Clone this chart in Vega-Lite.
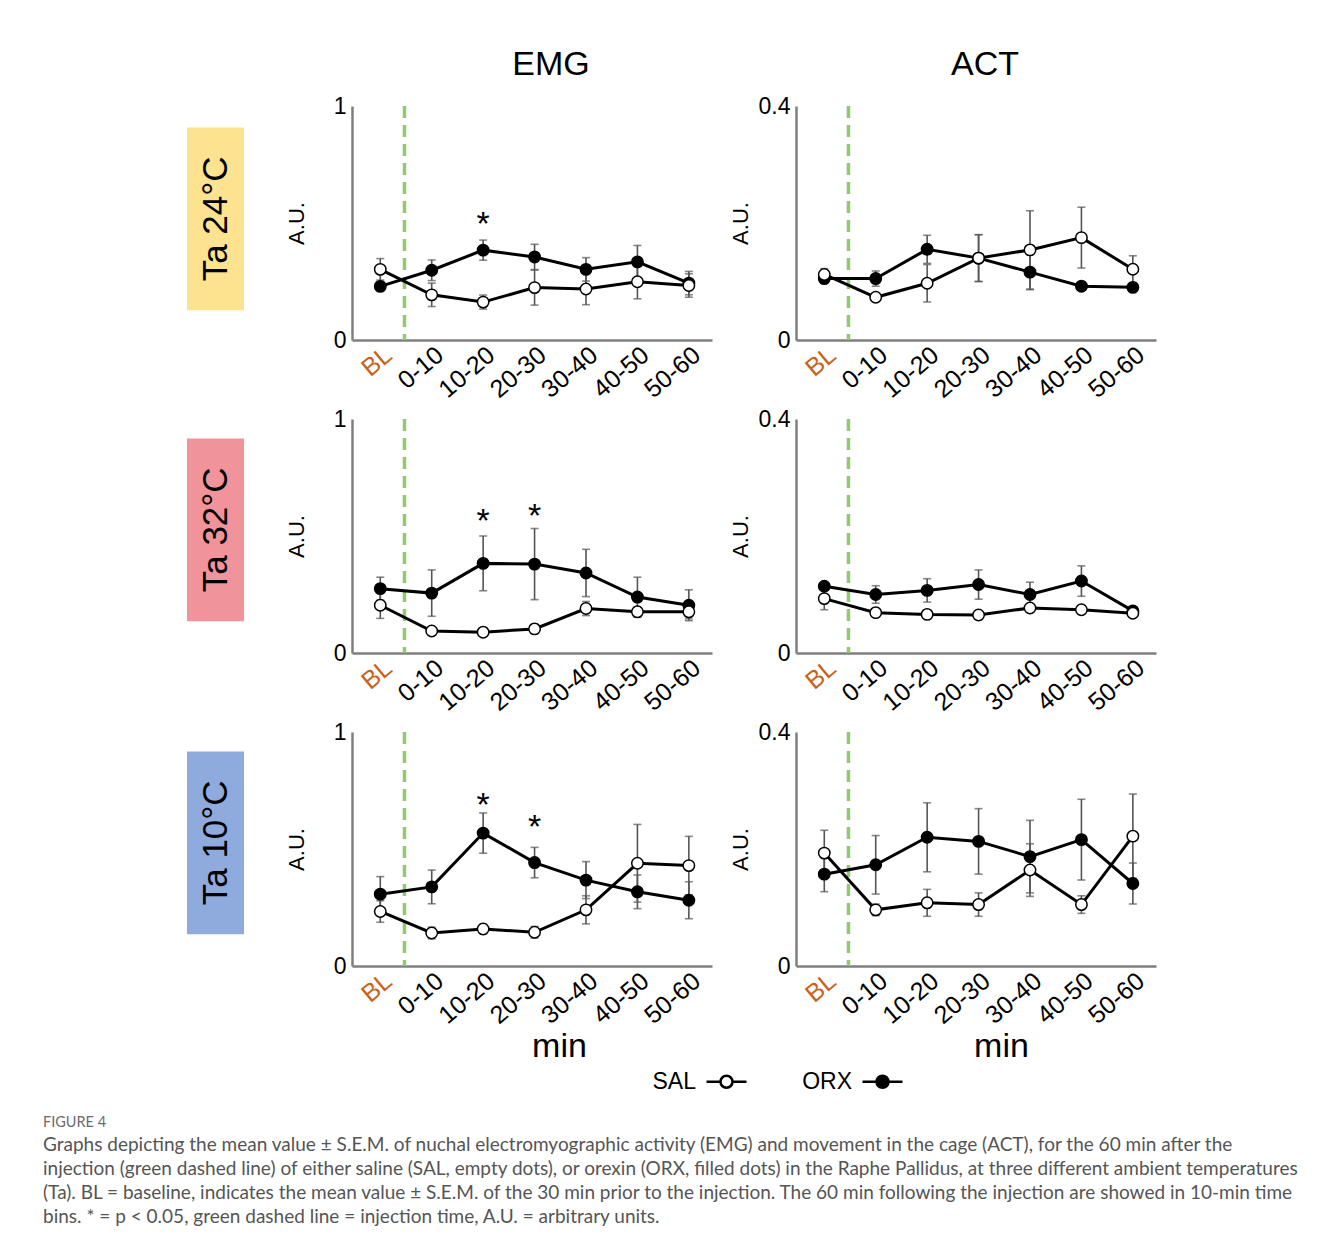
{
"$schema":"https://vega.github.io/schema/vega-lite/v6.json",
"background":"white",
"padding":{"left":43,"top":48,"right":5,"bottom":10},
"datasets":{
"d":[
{"T":"24","M":"EMG","s":"ORX","x":0,"v":0.229,"e":0.02},{"T":"24","M":"EMG","s":"ORX","x":1,"v":0.298,"e":0.044},{"T":"24","M":"EMG","s":"ORX","x":2,"v":0.384,"e":0.043},{"T":"24","M":"EMG","s":"ORX","x":3,"v":0.355,"e":0.054},{"T":"24","M":"EMG","s":"ORX","x":4,"v":0.302,"e":0.05},{"T":"24","M":"EMG","s":"ORX","x":5,"v":0.334,"e":0.07},{"T":"24","M":"EMG","s":"ORX","x":6,"v":0.243,"e":0.05},
{"T":"24","M":"EMG","s":"SAL","x":0,"v":0.302,"e":0.046},{"T":"24","M":"EMG","s":"SAL","x":1,"v":0.193,"e":0.05},{"T":"24","M":"EMG","s":"SAL","x":2,"v":0.162,"e":0.03},{"T":"24","M":"EMG","s":"SAL","x":3,"v":0.224,"e":0.075},{"T":"24","M":"EMG","s":"SAL","x":4,"v":0.218,"e":0.067},{"T":"24","M":"EMG","s":"SAL","x":5,"v":0.249,"e":0.073},{"T":"24","M":"EMG","s":"SAL","x":6,"v":0.233,"e":0.05},
{"T":"24","M":"ACT","s":"ORX","x":0,"v":0.105,"e":0.008},{"T":"24","M":"ACT","s":"ORX","x":1,"v":0.105,"e":0.013},{"T":"24","M":"ACT","s":"ORX","x":2,"v":0.155,"e":0.024},{"T":"24","M":"ACT","s":"ORX","x":3,"v":0.14,"e":0.04},{"T":"24","M":"ACT","s":"ORX","x":4,"v":0.116,"e":0.03},{"T":"24","M":"ACT","s":"ORX","x":5,"v":0.092,"e":0},{"T":"24","M":"ACT","s":"ORX","x":6,"v":0.09,"e":0},
{"T":"24","M":"ACT","s":"SAL","x":0,"v":0.112,"e":0.01},{"T":"24","M":"ACT","s":"SAL","x":1,"v":0.073,"e":0.005},{"T":"24","M":"ACT","s":"SAL","x":2,"v":0.097,"e":0.032},{"T":"24","M":"ACT","s":"SAL","x":3,"v":0.14,"e":0.04},{"T":"24","M":"ACT","s":"SAL","x":4,"v":0.154,"e":0.067},{"T":"24","M":"ACT","s":"SAL","x":5,"v":0.175,"e":0.052},{"T":"24","M":"ACT","s":"SAL","x":6,"v":0.121,"e":0.023},
{"T":"32","M":"EMG","s":"ORX","x":0,"v":0.275,"e":0.049},{"T":"32","M":"EMG","s":"ORX","x":1,"v":0.256,"e":0.099},{"T":"32","M":"EMG","s":"ORX","x":2,"v":0.383,"e":0.117},{"T":"32","M":"EMG","s":"ORX","x":3,"v":0.38,"e":0.152},{"T":"32","M":"EMG","s":"ORX","x":4,"v":0.342,"e":0.101},{"T":"32","M":"EMG","s":"ORX","x":5,"v":0.239,"e":0.085},{"T":"32","M":"EMG","s":"ORX","x":6,"v":0.204,"e":0.066},
{"T":"32","M":"EMG","s":"SAL","x":0,"v":0.204,"e":0.056},{"T":"32","M":"EMG","s":"SAL","x":1,"v":0.094,"e":0.01},{"T":"32","M":"EMG","s":"SAL","x":2,"v":0.089,"e":0.008},{"T":"32","M":"EMG","s":"SAL","x":3,"v":0.103,"e":0.02},{"T":"32","M":"EMG","s":"SAL","x":4,"v":0.19,"e":0.03},{"T":"32","M":"EMG","s":"SAL","x":5,"v":0.176,"e":0.02},{"T":"32","M":"EMG","s":"SAL","x":6,"v":0.176,"e":0.03},
{"T":"32","M":"ACT","s":"ORX","x":0,"v":0.114,"e":0.006},{"T":"32","M":"ACT","s":"ORX","x":1,"v":0.1,"e":0.015},{"T":"32","M":"ACT","s":"ORX","x":2,"v":0.107,"e":0.02},{"T":"32","M":"ACT","s":"ORX","x":3,"v":0.117,"e":0.025},{"T":"32","M":"ACT","s":"ORX","x":4,"v":0.1,"e":0.021},{"T":"32","M":"ACT","s":"ORX","x":5,"v":0.123,"e":0.026},{"T":"32","M":"ACT","s":"ORX","x":6,"v":0.072,"e":0.004},
{"T":"32","M":"ACT","s":"SAL","x":0,"v":0.093,"e":0.019},{"T":"32","M":"ACT","s":"SAL","x":1,"v":0.069,"e":0.004},{"T":"32","M":"ACT","s":"SAL","x":2,"v":0.066,"e":0.003},{"T":"32","M":"ACT","s":"SAL","x":3,"v":0.065,"e":0.003},{"T":"32","M":"ACT","s":"SAL","x":4,"v":0.077,"e":0.004},{"T":"32","M":"ACT","s":"SAL","x":5,"v":0.074,"e":0.004},{"T":"32","M":"ACT","s":"SAL","x":6,"v":0.068,"e":0.003},
{"T":"10","M":"EMG","s":"ORX","x":0,"v":0.307,"e":0.075},{"T":"10","M":"EMG","s":"ORX","x":1,"v":0.338,"e":0.072},{"T":"10","M":"EMG","s":"ORX","x":2,"v":0.568,"e":0.086},{"T":"10","M":"EMG","s":"ORX","x":3,"v":0.442,"e":0.065},{"T":"10","M":"EMG","s":"ORX","x":4,"v":0.367,"e":0.079},{"T":"10","M":"EMG","s":"ORX","x":5,"v":0.317,"e":0.072},{"T":"10","M":"EMG","s":"ORX","x":6,"v":0.281,"e":0.079},
{"T":"10","M":"EMG","s":"SAL","x":0,"v":0.233,"e":0.046},{"T":"10","M":"EMG","s":"SAL","x":1,"v":0.141,"e":0.025},{"T":"10","M":"EMG","s":"SAL","x":2,"v":0.158,"e":0.02},{"T":"10","M":"EMG","s":"SAL","x":3,"v":0.144,"e":0.025},{"T":"10","M":"EMG","s":"SAL","x":4,"v":0.24,"e":0.06},{"T":"10","M":"EMG","s":"SAL","x":5,"v":0.439,"e":0.166},{"T":"10","M":"EMG","s":"SAL","x":6,"v":0.429,"e":0.125},
{"T":"10","M":"ACT","s":"ORX","x":0,"v":0.157,"e":0.03},{"T":"10","M":"ACT","s":"ORX","x":1,"v":0.173,"e":0.05},{"T":"10","M":"ACT","s":"ORX","x":2,"v":0.22,"e":0.059},{"T":"10","M":"ACT","s":"ORX","x":3,"v":0.213,"e":0.056},{"T":"10","M":"ACT","s":"ORX","x":4,"v":0.187,"e":0.062},{"T":"10","M":"ACT","s":"ORX","x":5,"v":0.216,"e":0.069},{"T":"10","M":"ACT","s":"ORX","x":6,"v":0.141,"e":0.035},
{"T":"10","M":"ACT","s":"SAL","x":0,"v":0.193,"e":0.039},{"T":"10","M":"ACT","s":"SAL","x":1,"v":0.096,"e":0.01},{"T":"10","M":"ACT","s":"SAL","x":2,"v":0.108,"e":0.023},{"T":"10","M":"ACT","s":"SAL","x":3,"v":0.105,"e":0.02},{"T":"10","M":"ACT","s":"SAL","x":4,"v":0.164,"e":0.045},{"T":"10","M":"ACT","s":"SAL","x":5,"v":0.105,"e":0.015},{"T":"10","M":"ACT","s":"SAL","x":6,"v":0.222,"e":0.072}
],
"st":[
{"T":"24","M":"EMG","x":2,"y":0.53},
{"T":"32","M":"EMG","x":2,"y":0.597},{"T":"32","M":"EMG","x":3,"y":0.618},
{"T":"10","M":"EMG","x":2,"y":0.722},{"T":"10","M":"EMG","x":3,"y":0.627}
]
},
"title":{"text":"FIGURE 4","subtitle":["Graphs depicting the mean value ± S.E.M. of nuchal electromyographic activity (EMG) and movement in the cage (ACT), for the 60 min after the","injection (green dashed line) of either saline (SAL, empty dots), or orexin (ORX, filled dots) in the Raphe Pallidus, at three different ambient temperatures","(Ta). BL = baseline, indicates the mean value ± S.E.M. of the 30 min prior to the injection. The 60 min following the injection are showed in 10-min time","bins. * = p < 0.05, green dashed line = injection time, A.U. = arbitrary units."],"orient":"bottom","anchor":"start","frame":"bounds","dx":-144,"offset":22,"font":"Lato","fontSize":14.5,"fontWeight":"normal","color":"#6b6b6b","subtitleFont":"Lato","subtitleFontSize":19,"subtitleColor":"#555555","subtitleLineHeight":24,"subtitlePadding":5},
"columns":3,
"spacing":{"row":79,"column":84},
"bounds":"flush",
"align":"each",
"resolve":{"scale":{"x":"independent","y":"independent","fill":"shared"},"axis":{"x":"independent","y":"independent"}},
"concat":[
{"width":81,"height":234,"data":{"values":[{"lab":"Ta 24°C"}]},"layer":[
 {"mark":{"type":"rect","color":"#fde290"},"encoding":{"x":{"field":"lab","type":"nominal","axis":null,"scale":{"paddingInner":0,"paddingOuter":0.21,"align":0}},"y":{"field":"lab","type":"nominal","axis":null,"scale":{"paddingInner":0,"paddingOuter":0.14,"align":0.42}}}},
 {"mark":{"type":"text","angle":270,"fontSize":35,"color":"black"},"encoding":{"x":{"field":"lab","type":"nominal","axis":null},"y":{"field":"lab","type":"nominal","axis":null},"text":{"field":"lab"}}}
]},
{"width":360,"height":234,"title":{"text":"EMG","fontSize":34,"fontWeight":"normal","offset":13,"dx":19},"layer":[
 {"data":{"values":[{}]},"mark":{"type":"rule","color":"#8fca70","strokeWidth":3.5,"strokeDash":[12,7]},"encoding":{"x":{"datum":0.47,"type":"quantitative","scale":{"domain":[-0.55,6.45],"nice":false,"zero":false},"axis":{"values":[0,1,2,3,4,5,6],"labelExpr":"['BL','0-10','10-20','20-30','30-40','40-50','50-60'][datum.value]","labelAngle":-40,"labelAlign":"right","labelBaseline":"top","labelFontSize":25,"labelColor":{"condition":{"test":"datum.value == 0","value":"#c7631c"},"value":"black"},"labelOverlap":false,"labelFlush":false,"labelBound":false,"labelPadding":2,"ticks":false,"grid":false,"title":null,"domainColor":"#7f7f7f","domainWidth":2.5}}}},
 {"data":{"name":"d"},"transform":[{"filter":"datum.T == '24' && datum.M == 'EMG'"}],"mark":{"type":"line","color":"black","strokeWidth":3},"encoding":{"x":{"field":"x","type":"quantitative"},"y":{"field":"v","type":"quantitative","title":"A.U.","scale":{"domain":[0,1],"nice":false},"axis":{"values":[0,1],"format":"~g","ticks":false,"grid":false,"title":"A.U.","titleFontSize":22,"titleFontWeight":"normal","titlePadding":25,"titleColor":"black","labelFontSize":23,"labelPadding":6,"labelColor":"black","labelFlush":false,"domainColor":"#7f7f7f","domainWidth":2.5}},"detail":{"field":"s"}}},
 {"data":{"name":"d"},"transform":[{"filter":"datum.T == '24' && datum.M == 'EMG'"}],"mark":{"type":"errorbar","color":"#555555","thickness":1.6,"ticks":{"size":8}},"encoding":{"x":{"field":"x","type":"quantitative"},"y":{"field":"v","type":"quantitative","title":"A.U."},"yError":{"field":"e"}}},
 {"data":{"name":"d"},"transform":[{"filter":"datum.T == '24' && datum.M == 'EMG'"}],"mark":{"type":"circle","size":130,"stroke":"black","strokeWidth":1.5,"opacity":1},"encoding":{"x":{"field":"x","type":"quantitative"},"y":{"field":"v","type":"quantitative","title":"A.U."},"fill":{"field":"s","type":"nominal","scale":{"domain":["SAL","ORX"],"range":["white","black"]},"legend":{"orient":"none","legendX":518,"legendY":954,"direction":"horizontal","title":null,"symbolType":"M-1,0H-0.3A0.3,0.3 0 1,1 0.3,0A0.3,0.3 0 1,1 -0.3,0M0.3,0H1","symbolSize":1600,"symbolStrokeColor":"black","symbolStrokeWidth":2.5,"labelFontSize":23,"labelColor":"black","labelOffset":-52,"labelAlign":"right","columnPadding":50}}}},
 {"data":{"name":"st"},"transform":[{"filter":"datum.T == '24' && datum.M == 'EMG'"}],"mark":{"type":"text","text":"*","fontSize":34,"baseline":"alphabetic","dy":19,"color":"black"},"encoding":{"x":{"field":"x","type":"quantitative"},"y":{"field":"y","type":"quantitative","title":"A.U."}}}
]},
{"width":360,"height":234,"title":{"text":"ACT","fontSize":34,"fontWeight":"normal","offset":13,"dx":9},"layer":[
 {"data":{"values":[{}]},"mark":{"type":"rule","color":"#8fca70","strokeWidth":3.5,"strokeDash":[12,7]},"encoding":{"x":{"datum":0.47,"type":"quantitative","scale":{"domain":[-0.55,6.45],"nice":false,"zero":false},"axis":{"values":[0,1,2,3,4,5,6],"labelExpr":"['BL','0-10','10-20','20-30','30-40','40-50','50-60'][datum.value]","labelAngle":-40,"labelAlign":"right","labelBaseline":"top","labelFontSize":25,"labelColor":{"condition":{"test":"datum.value == 0","value":"#c7631c"},"value":"black"},"labelOverlap":false,"labelFlush":false,"labelBound":false,"labelPadding":2,"ticks":false,"grid":false,"title":null,"domainColor":"#7f7f7f","domainWidth":2.5}}}},
 {"data":{"name":"d"},"transform":[{"filter":"datum.T == '24' && datum.M == 'ACT'"}],"mark":{"type":"line","color":"black","strokeWidth":3},"encoding":{"x":{"field":"x","type":"quantitative"},"y":{"field":"v","type":"quantitative","title":"A.U.","scale":{"domain":[0,0.4],"nice":false},"axis":{"values":[0,0.4],"format":"~g","ticks":false,"grid":false,"title":"A.U.","titleFontSize":22,"titleFontWeight":"normal","titlePadding":6,"titleColor":"black","labelFontSize":23,"labelPadding":6,"labelColor":"black","labelFlush":false,"domainColor":"#7f7f7f","domainWidth":2.5}},"detail":{"field":"s"}}},
 {"data":{"name":"d"},"transform":[{"filter":"datum.T == '24' && datum.M == 'ACT'"}],"mark":{"type":"errorbar","color":"#555555","thickness":1.6,"ticks":{"size":8}},"encoding":{"x":{"field":"x","type":"quantitative"},"y":{"field":"v","type":"quantitative","title":"A.U."},"yError":{"field":"e"}}},
 {"data":{"name":"d"},"transform":[{"filter":"datum.T == '24' && datum.M == 'ACT'"}],"mark":{"type":"circle","size":130,"stroke":"black","strokeWidth":1.5,"opacity":1},"encoding":{"x":{"field":"x","type":"quantitative"},"y":{"field":"v","type":"quantitative","title":"A.U."},"fill":{"field":"s","type":"nominal","scale":{"domain":["SAL","ORX"],"range":["white","black"]},"legend":{"orient":"none","legendX":518,"legendY":954,"direction":"horizontal","title":null,"symbolType":"M-1,0H-0.3A0.3,0.3 0 1,1 0.3,0A0.3,0.3 0 1,1 -0.3,0M0.3,0H1","symbolSize":1600,"symbolStrokeColor":"black","symbolStrokeWidth":2.5,"labelFontSize":23,"labelColor":"black","labelOffset":-52,"labelAlign":"right","columnPadding":50}}}}
]},
{"width":81,"height":234,"data":{"values":[{"lab":"Ta 32°C"}]},"layer":[
 {"mark":{"type":"rect","color":"#f0939b"},"encoding":{"x":{"field":"lab","type":"nominal","axis":null,"scale":{"paddingInner":0,"paddingOuter":0.21,"align":0}},"y":{"field":"lab","type":"nominal","axis":null,"scale":{"paddingInner":0,"paddingOuter":0.14,"align":0.38}}}},
 {"mark":{"type":"text","angle":270,"fontSize":35,"color":"black"},"encoding":{"x":{"field":"lab","type":"nominal","axis":null},"y":{"field":"lab","type":"nominal","axis":null},"text":{"field":"lab"}}}
]},
{"width":360,"height":234,"layer":[
 {"data":{"values":[{}]},"mark":{"type":"rule","color":"#8fca70","strokeWidth":3.5,"strokeDash":[12,7]},"encoding":{"x":{"datum":0.47,"type":"quantitative","scale":{"domain":[-0.55,6.45],"nice":false,"zero":false},"axis":{"values":[0,1,2,3,4,5,6],"labelExpr":"['BL','0-10','10-20','20-30','30-40','40-50','50-60'][datum.value]","labelAngle":-40,"labelAlign":"right","labelBaseline":"top","labelFontSize":25,"labelColor":{"condition":{"test":"datum.value == 0","value":"#c7631c"},"value":"black"},"labelOverlap":false,"labelFlush":false,"labelBound":false,"labelPadding":2,"ticks":false,"grid":false,"title":null,"domainColor":"#7f7f7f","domainWidth":2.5}}}},
 {"data":{"name":"d"},"transform":[{"filter":"datum.T == '32' && datum.M == 'EMG'"}],"mark":{"type":"line","color":"black","strokeWidth":3},"encoding":{"x":{"field":"x","type":"quantitative"},"y":{"field":"v","type":"quantitative","title":"A.U.","scale":{"domain":[0,1],"nice":false},"axis":{"values":[0,1],"format":"~g","ticks":false,"grid":false,"title":"A.U.","titleFontSize":22,"titleFontWeight":"normal","titlePadding":25,"titleColor":"black","labelFontSize":23,"labelPadding":6,"labelColor":"black","labelFlush":false,"domainColor":"#7f7f7f","domainWidth":2.5}},"detail":{"field":"s"}}},
 {"data":{"name":"d"},"transform":[{"filter":"datum.T == '32' && datum.M == 'EMG'"}],"mark":{"type":"errorbar","color":"#555555","thickness":1.6,"ticks":{"size":8}},"encoding":{"x":{"field":"x","type":"quantitative"},"y":{"field":"v","type":"quantitative","title":"A.U."},"yError":{"field":"e"}}},
 {"data":{"name":"d"},"transform":[{"filter":"datum.T == '32' && datum.M == 'EMG'"}],"mark":{"type":"circle","size":130,"stroke":"black","strokeWidth":1.5,"opacity":1},"encoding":{"x":{"field":"x","type":"quantitative"},"y":{"field":"v","type":"quantitative","title":"A.U."},"fill":{"field":"s","type":"nominal","scale":{"domain":["SAL","ORX"],"range":["white","black"]},"legend":{"orient":"none","legendX":518,"legendY":954,"direction":"horizontal","title":null,"symbolType":"M-1,0H-0.3A0.3,0.3 0 1,1 0.3,0A0.3,0.3 0 1,1 -0.3,0M0.3,0H1","symbolSize":1600,"symbolStrokeColor":"black","symbolStrokeWidth":2.5,"labelFontSize":23,"labelColor":"black","labelOffset":-52,"labelAlign":"right","columnPadding":50}}}},
 {"data":{"name":"st"},"transform":[{"filter":"datum.T == '32' && datum.M == 'EMG'"}],"mark":{"type":"text","text":"*","fontSize":34,"baseline":"alphabetic","dy":19,"color":"black"},"encoding":{"x":{"field":"x","type":"quantitative"},"y":{"field":"y","type":"quantitative","title":"A.U."}}}
]},
{"width":360,"height":234,"layer":[
 {"data":{"values":[{}]},"mark":{"type":"rule","color":"#8fca70","strokeWidth":3.5,"strokeDash":[12,7]},"encoding":{"x":{"datum":0.47,"type":"quantitative","scale":{"domain":[-0.55,6.45],"nice":false,"zero":false},"axis":{"values":[0,1,2,3,4,5,6],"labelExpr":"['BL','0-10','10-20','20-30','30-40','40-50','50-60'][datum.value]","labelAngle":-40,"labelAlign":"right","labelBaseline":"top","labelFontSize":25,"labelColor":{"condition":{"test":"datum.value == 0","value":"#c7631c"},"value":"black"},"labelOverlap":false,"labelFlush":false,"labelBound":false,"labelPadding":2,"ticks":false,"grid":false,"title":null,"domainColor":"#7f7f7f","domainWidth":2.5}}}},
 {"data":{"name":"d"},"transform":[{"filter":"datum.T == '32' && datum.M == 'ACT'"}],"mark":{"type":"line","color":"black","strokeWidth":3},"encoding":{"x":{"field":"x","type":"quantitative"},"y":{"field":"v","type":"quantitative","title":"A.U.","scale":{"domain":[0,0.4],"nice":false},"axis":{"values":[0,0.4],"format":"~g","ticks":false,"grid":false,"title":"A.U.","titleFontSize":22,"titleFontWeight":"normal","titlePadding":6,"titleColor":"black","labelFontSize":23,"labelPadding":6,"labelColor":"black","labelFlush":false,"domainColor":"#7f7f7f","domainWidth":2.5}},"detail":{"field":"s"}}},
 {"data":{"name":"d"},"transform":[{"filter":"datum.T == '32' && datum.M == 'ACT'"}],"mark":{"type":"errorbar","color":"#555555","thickness":1.6,"ticks":{"size":8}},"encoding":{"x":{"field":"x","type":"quantitative"},"y":{"field":"v","type":"quantitative","title":"A.U."},"yError":{"field":"e"}}},
 {"data":{"name":"d"},"transform":[{"filter":"datum.T == '32' && datum.M == 'ACT'"}],"mark":{"type":"circle","size":130,"stroke":"black","strokeWidth":1.5,"opacity":1},"encoding":{"x":{"field":"x","type":"quantitative"},"y":{"field":"v","type":"quantitative","title":"A.U."},"fill":{"field":"s","type":"nominal","scale":{"domain":["SAL","ORX"],"range":["white","black"]},"legend":{"orient":"none","legendX":518,"legendY":954,"direction":"horizontal","title":null,"symbolType":"M-1,0H-0.3A0.3,0.3 0 1,1 0.3,0A0.3,0.3 0 1,1 -0.3,0M0.3,0H1","symbolSize":1600,"symbolStrokeColor":"black","symbolStrokeWidth":2.5,"labelFontSize":23,"labelColor":"black","labelOffset":-52,"labelAlign":"right","columnPadding":50}}}}
]},
{"width":81,"height":234,"data":{"values":[{"lab":"Ta 10°C"}]},"layer":[
 {"mark":{"type":"rect","color":"#8faadc"},"encoding":{"x":{"field":"lab","type":"nominal","axis":null,"scale":{"paddingInner":0,"paddingOuter":0.21,"align":0}},"y":{"field":"lab","type":"nominal","axis":null,"scale":{"paddingInner":0,"paddingOuter":0.14,"align":0.38}}}},
 {"mark":{"type":"text","angle":270,"fontSize":35,"color":"black"},"encoding":{"x":{"field":"lab","type":"nominal","axis":null},"y":{"field":"lab","type":"nominal","axis":null},"text":{"field":"lab"}}}
]},
{"width":360,"height":234,"layer":[
 {"data":{"values":[{}]},"mark":{"type":"rule","color":"#8fca70","strokeWidth":3.5,"strokeDash":[12,7]},"encoding":{"x":{"datum":0.47,"type":"quantitative","scale":{"domain":[-0.55,6.45],"nice":false,"zero":false},"axis":{"values":[0,1,2,3,4,5,6],"labelExpr":"['BL','0-10','10-20','20-30','30-40','40-50','50-60'][datum.value]","labelAngle":-40,"labelAlign":"right","labelBaseline":"top","labelFontSize":25,"labelColor":{"condition":{"test":"datum.value == 0","value":"#c7631c"},"value":"black"},"labelOverlap":false,"labelFlush":false,"labelBound":false,"labelPadding":2,"ticks":false,"grid":false,"title":"min","titleFontSize":34,"titleFontWeight":"normal","titleColor":"black","titleX":207,"titlePadding":1,"domainColor":"#7f7f7f","domainWidth":2.5}}}},
 {"data":{"name":"d"},"transform":[{"filter":"datum.T == '10' && datum.M == 'EMG'"}],"mark":{"type":"line","color":"black","strokeWidth":3},"encoding":{"x":{"field":"x","type":"quantitative"},"y":{"field":"v","type":"quantitative","title":"A.U.","scale":{"domain":[0,1],"nice":false},"axis":{"values":[0,1],"format":"~g","ticks":false,"grid":false,"title":"A.U.","titleFontSize":22,"titleFontWeight":"normal","titlePadding":25,"titleColor":"black","labelFontSize":23,"labelPadding":6,"labelColor":"black","labelFlush":false,"domainColor":"#7f7f7f","domainWidth":2.5}},"detail":{"field":"s"}}},
 {"data":{"name":"d"},"transform":[{"filter":"datum.T == '10' && datum.M == 'EMG'"}],"mark":{"type":"errorbar","color":"#555555","thickness":1.6,"ticks":{"size":8}},"encoding":{"x":{"field":"x","type":"quantitative"},"y":{"field":"v","type":"quantitative","title":"A.U."},"yError":{"field":"e"}}},
 {"data":{"name":"d"},"transform":[{"filter":"datum.T == '10' && datum.M == 'EMG'"}],"mark":{"type":"circle","size":130,"stroke":"black","strokeWidth":1.5,"opacity":1},"encoding":{"x":{"field":"x","type":"quantitative"},"y":{"field":"v","type":"quantitative","title":"A.U."},"fill":{"field":"s","type":"nominal","scale":{"domain":["SAL","ORX"],"range":["white","black"]},"legend":{"orient":"none","legendX":518,"legendY":954,"direction":"horizontal","title":null,"symbolType":"M-1,0H-0.3A0.3,0.3 0 1,1 0.3,0A0.3,0.3 0 1,1 -0.3,0M0.3,0H1","symbolSize":1600,"symbolStrokeColor":"black","symbolStrokeWidth":2.5,"labelFontSize":23,"labelColor":"black","labelOffset":-52,"labelAlign":"right","columnPadding":50}}}},
 {"data":{"name":"st"},"transform":[{"filter":"datum.T == '10' && datum.M == 'EMG'"}],"mark":{"type":"text","text":"*","fontSize":34,"baseline":"alphabetic","dy":19,"color":"black"},"encoding":{"x":{"field":"x","type":"quantitative"},"y":{"field":"y","type":"quantitative","title":"A.U."}}}
]},
{"width":360,"height":234,"layer":[
 {"data":{"values":[{}]},"mark":{"type":"rule","color":"#8fca70","strokeWidth":3.5,"strokeDash":[12,7]},"encoding":{"x":{"datum":0.47,"type":"quantitative","scale":{"domain":[-0.55,6.45],"nice":false,"zero":false},"axis":{"values":[0,1,2,3,4,5,6],"labelExpr":"['BL','0-10','10-20','20-30','30-40','40-50','50-60'][datum.value]","labelAngle":-40,"labelAlign":"right","labelBaseline":"top","labelFontSize":25,"labelColor":{"condition":{"test":"datum.value == 0","value":"#c7631c"},"value":"black"},"labelOverlap":false,"labelFlush":false,"labelBound":false,"labelPadding":2,"ticks":false,"grid":false,"title":"min","titleFontSize":34,"titleFontWeight":"normal","titleColor":"black","titleX":205,"titlePadding":1,"domainColor":"#7f7f7f","domainWidth":2.5}}}},
 {"data":{"name":"d"},"transform":[{"filter":"datum.T == '10' && datum.M == 'ACT'"}],"mark":{"type":"line","color":"black","strokeWidth":3},"encoding":{"x":{"field":"x","type":"quantitative"},"y":{"field":"v","type":"quantitative","title":"A.U.","scale":{"domain":[0,0.4],"nice":false},"axis":{"values":[0,0.4],"format":"~g","ticks":false,"grid":false,"title":"A.U.","titleFontSize":22,"titleFontWeight":"normal","titlePadding":6,"titleColor":"black","labelFontSize":23,"labelPadding":6,"labelColor":"black","labelFlush":false,"domainColor":"#7f7f7f","domainWidth":2.5}},"detail":{"field":"s"}}},
 {"data":{"name":"d"},"transform":[{"filter":"datum.T == '10' && datum.M == 'ACT'"}],"mark":{"type":"errorbar","color":"#555555","thickness":1.6,"ticks":{"size":8}},"encoding":{"x":{"field":"x","type":"quantitative"},"y":{"field":"v","type":"quantitative","title":"A.U."},"yError":{"field":"e"}}},
 {"data":{"name":"d"},"transform":[{"filter":"datum.T == '10' && datum.M == 'ACT'"}],"mark":{"type":"circle","size":130,"stroke":"black","strokeWidth":1.5,"opacity":1},"encoding":{"x":{"field":"x","type":"quantitative"},"y":{"field":"v","type":"quantitative","title":"A.U."},"fill":{"field":"s","type":"nominal","scale":{"domain":["SAL","ORX"],"range":["white","black"]},"legend":{"orient":"none","legendX":518,"legendY":954,"direction":"horizontal","title":null,"symbolType":"M-1,0H-0.3A0.3,0.3 0 1,1 0.3,0A0.3,0.3 0 1,1 -0.3,0M0.3,0H1","symbolSize":1600,"symbolStrokeColor":"black","symbolStrokeWidth":2.5,"labelFontSize":23,"labelColor":"black","labelOffset":-52,"labelAlign":"right","columnPadding":50}}}}
]}
],
"config":{"view":{"stroke":null},"font":"Liberation Sans","axis":{"labelFont":"Liberation Sans","titleFont":"Liberation Sans"},"legend":{"labelFont":"Liberation Sans"}}
}
